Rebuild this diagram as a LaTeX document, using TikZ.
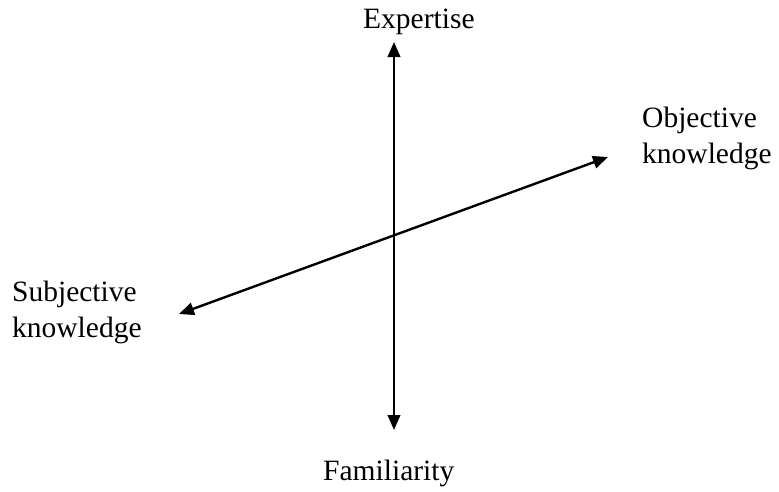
\documentclass[tikz,border=0pt]{standalone}
\usepackage{fontspec}
\setmainfont{Liberation Serif}
\usetikzlibrary{arrows.meta}
\tikzset{
  axis/.style={line width=2.4pt, {Triangle[length=15pt,width=12.5pt]}-{Triangle[length=15pt,width=12.5pt]}},
  lbl/.style={inner sep=0pt, font=\fontsize{29.5}{35.5}\selectfont, align=left}
}
\begin{document}
\begin{tikzpicture}[x=1pt,y=-1pt]
\useasboundingbox (0,0) rectangle (779,491);
\coordinate (top) at (394,42);
\coordinate (bot) at (394,430);
\coordinate (obj) at (608,157);
\coordinate (subj) at (179,314);
\draw[axis] (bot) -- (top);
\draw[axis] (subj) -- (obj);
\node[lbl, anchor=base west] (exp) at (363,28) {Expertise};
\node[lbl, anchor=base west] (fam) at (323,480) {Familiarity};
\node[lbl, anchor=base west] (objt) at (642,163) {Objective\\knowledge};
\node[lbl, anchor=base west] (subt) at (12,337) {Subjective\\knowledge};
\end{tikzpicture}
\end{document}
